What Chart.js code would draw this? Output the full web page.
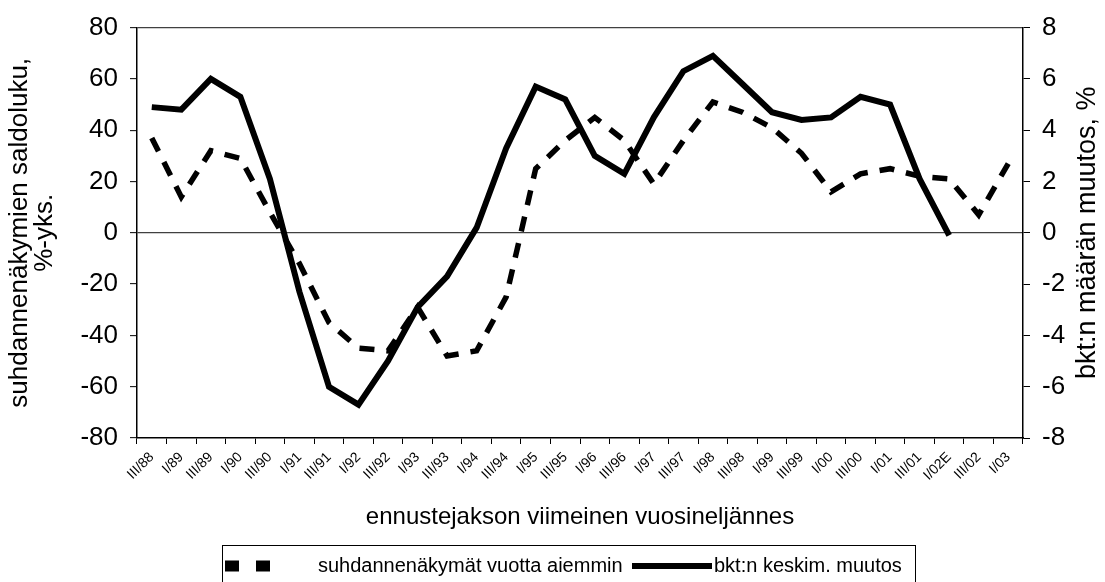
<!DOCTYPE html>
<html>
<head>
<meta charset="utf-8">
<script src="https://cdn.jsdelivr.net/npm/chart.js@4/dist/chart.umd.min.js"></script>
<style>
  html, body { margin: 0; padding: 0; background: #fff; }
  #wrap { width: 1105px; height: 582px; }
</style>
</head>
<body>
<div id="wrap"><canvas id="chart" width="1105" height="582"></canvas></div>
<script>
// quarters on the x axis
const quarters = ['III/88','I/89','III/89','I/90','III/90','I/91','III/91','I/92','III/92','I/93',
  'III/93','I/94','III/94','I/95','III/95','I/96','III/96','I/97','III/97','I/98',
  'III/98','I/99','III/99','I/00','III/00','I/01','III/01','I/02E','III/02','I/03'];

// suhdannenäkymät vuotta aiemmin (left axis, saldoluku)
const outlook = [37, 14, 32, 29, 8, -12, -35, -45, -46, -29,
  -48, -46, -25, 25, 36, 45, 36, 19, 36, 51,
  47, 41, 31, 16, 23, 25, 22, 21, 7, 27];

// bkt:n keskim. muutos (right axis, %)
const gdpChange = [4.9, 4.8, 6.0, 5.3, 2.1, -2.3, -6.0, -6.7, -5.0, -2.9,
  -1.7, 0.2, 3.3, 5.7, 5.2, 3.0, 2.3, 4.5, 6.3, 6.9,
  5.8, 4.7, 4.4, 4.5, 5.3, 5.0, 2.1, -0.1, null, null];

const seriesNames = ['suhdannenäkymät vuotta aiemmin', 'bkt:n keskim. muutos'];
const leftTitle = ['suhdannenäkymien saldoluku,', '%-yks.'];
const rightTitle = 'bkt:n määrän muutos, %';
const xTitle = 'ennustejakson viimeinen vuosineljännes';

const FONT = "'Liberation Sans', Arial, sans-serif";

// right title reads bottom-to-top + boxed legend like the original
const extras = {
  id: 'extras',
  afterDraw(chart) {
    const ctx = chart.ctx;
    const area = chart.chartArea;
    ctx.save();
    ctx.fillStyle = '#000';
    ctx.font = '27px ' + FONT;
    ctx.textAlign = 'center';
    ctx.textBaseline = 'middle';
    ctx.translate(1088, (area.top + area.bottom) / 2);
    ctx.rotate(-Math.PI / 2);
    ctx.fillText(rightTitle, 0, 0);
    ctx.restore();

    // legend
    ctx.save();
    ctx.strokeStyle = '#000';
    ctx.lineWidth = 1;
    ctx.strokeRect(222.5, 545.5, 693, 60);
    const ly = 566;
    const ds = chart.data.datasets;
    ctx.lineCap = 'butt';
    ctx.beginPath();
    ctx.setLineDash([14, 17]);
    ctx.lineWidth = 11;
    ctx.moveTo(225, ly);
    ctx.lineTo(284, ly);
    ctx.stroke();
    ctx.setLineDash([]);
    ctx.beginPath();
    ctx.lineWidth = 6;
    ctx.moveTo(632, ly);
    ctx.lineTo(712, ly);
    ctx.stroke();
    ctx.fillStyle = '#000';
    ctx.font = '20px ' + FONT;
    ctx.textBaseline = 'middle';
    ctx.textAlign = 'left';
    ctx.fillText(ds[0].label, 318, ly);
    ctx.fillText(ds[1].label, 714, ly);
    ctx.restore();
  }
};

new Chart(document.getElementById('chart'), {
  type: 'line',
  data: {
    labels: quarters,
    datasets: [
      {
        label: seriesNames[0],
        data: outlook,
        yAxisID: 'y',
        borderColor: '#000',
        borderWidth: 5.5,
        borderDash: [15, 12],
        borderJoinStyle: 'miter',
        pointRadius: 0,
        tension: 0,
        fill: false
      },
      {
        label: seriesNames[1],
        data: gdpChange,
        yAxisID: 'y1',
        borderColor: '#000',
        borderWidth: 6,
        borderJoinStyle: 'miter',
        pointRadius: 0,
        tension: 0,
        fill: false,
        spanGaps: false
      }
    ]
  },
  options: {
    responsive: false,
    devicePixelRatio: 1,
    animation: false,
    layout: { padding: { top: 24, left: 0, right: 0, bottom: 0 } },
    plugins: {
      legend: { display: false },
      tooltip: { enabled: false }
    },
    scales: {
      x: {
        type: 'category',
        offset: true,
        grid: { offset: true, drawOnChartArea: false, tickLength: 6, tickColor: '#000', tickWidth: 1 },
        border: { color: '#000', width: 1.5 },
        ticks: {
          autoSkip: false, maxRotation: 45, minRotation: 45,
          color: '#000', font: { family: FONT, size: 14 }, padding: 5
        },
        title: {
          display: true, text: xTitle, color: '#000',
          font: { family: FONT, size: 24 }, padding: { top: 0, bottom: 50 }
        },
        afterFit: s => { s.height = 144; }
      },
      y: {
        position: 'left',
        min: -80, max: 80,
        ticks: { stepSize: 20, color: '#000', font: { family: FONT, size: 26 }, padding: 12 },
        grid: {
          color: c => (c.tick && (c.tick.value === 0 || c.tick.value === 80)) ? '#404040' : 'rgba(0,0,0,0)',
          lineWidth: 1.3,
          tickLength: 7, tickColor: '#000', tickWidth: 1
        },
        border: { color: '#000', width: 1.5 },
        title: {
          display: true, text: leftTitle, color: '#000',
          font: { family: FONT, size: 26, lineHeight: 0.98 }, padding: { top: 7, bottom: 0 }
        },
        afterFit: s => { s.width = 137; }
      },
      y1: {
        position: 'right',
        min: -8, max: 8,
        ticks: { stepSize: 2, color: '#000', font: { family: FONT, size: 26 }, padding: 12 },
        grid: { drawOnChartArea: false, tickLength: 7, tickColor: '#000', tickWidth: 1 },
        border: { color: '#000', width: 1.5 },
        afterFit: s => { s.width = 82; }
      }
    }
  },
  plugins: [extras]
});
</script>
</body>
</html>
